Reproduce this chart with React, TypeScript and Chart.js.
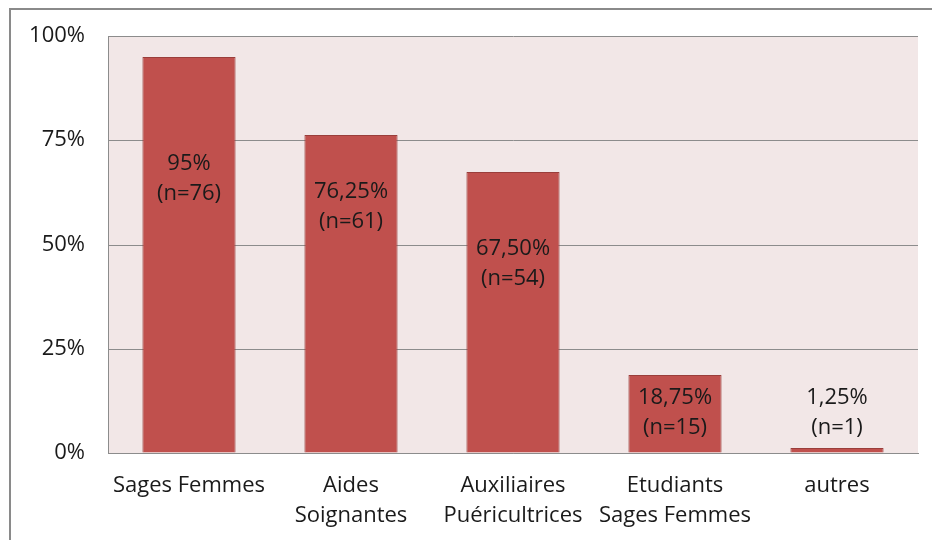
import React, { useEffect, useRef } from "react";
import { Chart, registerables } from "chart.js";

Chart.register(...registerables);

const categories: string[][] = [
  ["Sages Femmes"],
  ["Aides", "Soignantes"],
  ["Auxiliaires", "Puéricultrices"],
  ["Etudiants", "Sages Femmes"],
  ["autres"],
];
const percentValues: number[] = [95, 76.25, 67.5, 18.75, 1.25];
const counts: number[] = [76, 61, 54, 15, 1];
// vertical anchor (in % units) of each value label block
const labelAnchors: number[] = [65.8, 59, 45.3, 9.7, 9.7];
const yTicks: number[] = [0, 25, 50, 75, 100];

const FONT = "'Open Sans', 'DejaVu Sans', sans-serif";

function formatPct(v: number): string {
  if (Number.isInteger(v)) return v + "%";
  return v.toFixed(2).replace(".", ",") + "%";
}

export default function App() {
  const ref = useRef<HTMLCanvasElement | null>(null);

  useEffect(() => {
    document.body.style.margin = "0";
    const canvas = ref.current;
    if (!canvas) return;

    const framePlugin = {
      id: "frameAndBg",
      beforeDraw(chart: any) {
        const { ctx, chartArea } = chart;
        ctx.save();
        ctx.fillStyle = "#ffffff";
        ctx.fillRect(0, 0, chart.width, chart.height);
        ctx.fillStyle = "#F2E7E7";
        ctx.fillRect(
          chartArea.left,
          chartArea.top,
          chartArea.right - chartArea.left,
          chartArea.bottom - chartArea.top
        );
        ctx.strokeStyle = "#8a8a8a";
        ctx.lineWidth = 2;
        ctx.beginPath();
        ctx.moveTo(10, chart.height + 2);
        ctx.lineTo(10, 9);
        ctx.lineTo(chart.width + 2, 9);
        ctx.stroke();
        ctx.restore();
      },
    };

    const labelPlugin = {
      id: "barLabels",
      afterDatasetsDraw(chart: any) {
        const { ctx } = chart;
        const meta = chart.getDatasetMeta(0);
        const yScale = chart.scales.y;
        ctx.save();
        ctx.font = `22px ${FONT}`;
        ctx.fillStyle = "#1a1a1a";
        ctx.textAlign = "center";
        ctx.textBaseline = "middle";
        meta.data.forEach((bar: any, i: number) => {
          const cy = yScale.getPixelForValue(labelAnchors[i]);
          ctx.fillText(formatPct(percentValues[i]), bar.x, cy - 15);
          ctx.fillText(`(n=${counts[i]})`, bar.x, cy + 15);
        });
        ctx.restore();
      },
    };

    const chart = new Chart(canvas, {
      type: "bar",
      data: {
        labels: categories,
        datasets: [
          {
            data: percentValues,
            backgroundColor: "#C0504D",
            borderColor: "#9A3E3B",
            borderWidth: 1,
            barPercentage: 0.575,
            categoryPercentage: 1,
          },
        ],
      },
      options: {
        responsive: false,
        animation: false,
        layout: { padding: { left: 0, top: 36, right: 14, bottom: 0 } },
        plugins: {
          legend: { display: false },
          tooltip: { enabled: false },
        },
        scales: {
          x: {
            alignToPixels: true,
            grid: { display: false, drawTicks: false },
            border: { display: true, color: "#8c8c8c", width: 1 },
            ticks: {
              padding: 18,
              color: "#1a1a1a",
              font: { family: FONT, size: 22, lineHeight: 1.36 },
              maxRotation: 0,
              autoSkip: false,
            },
            afterFit(scale: any) {
              scale.height = 87;
            },
          },
          y: {
            min: 0,
            max: 100,
            alignToPixels: true,
            afterBuildTicks(scale: any) {
              scale.ticks = yTicks.map((v) => ({ value: v }));
            },
            grid: { color: "#8c8c8c", lineWidth: 1, drawTicks: false },
            border: { display: true, color: "#8c8c8c", width: 1 },
            ticks: {
              padding: 23,
              color: "#1a1a1a",
              font: { family: FONT, size: 22 },
              callback: (v: any) => v + "%",
            },
            afterFit(scale: any) {
              scale.width = 108;
            },
          },
        },
      },
      plugins: [framePlugin, labelPlugin],
    });

    return () => chart.destroy();
  }, []);

  return (
    <canvas
      ref={ref}
      width={932}
      height={540}
      style={{ display: "block", width: 932, height: 540 }}
    />
  );
}
